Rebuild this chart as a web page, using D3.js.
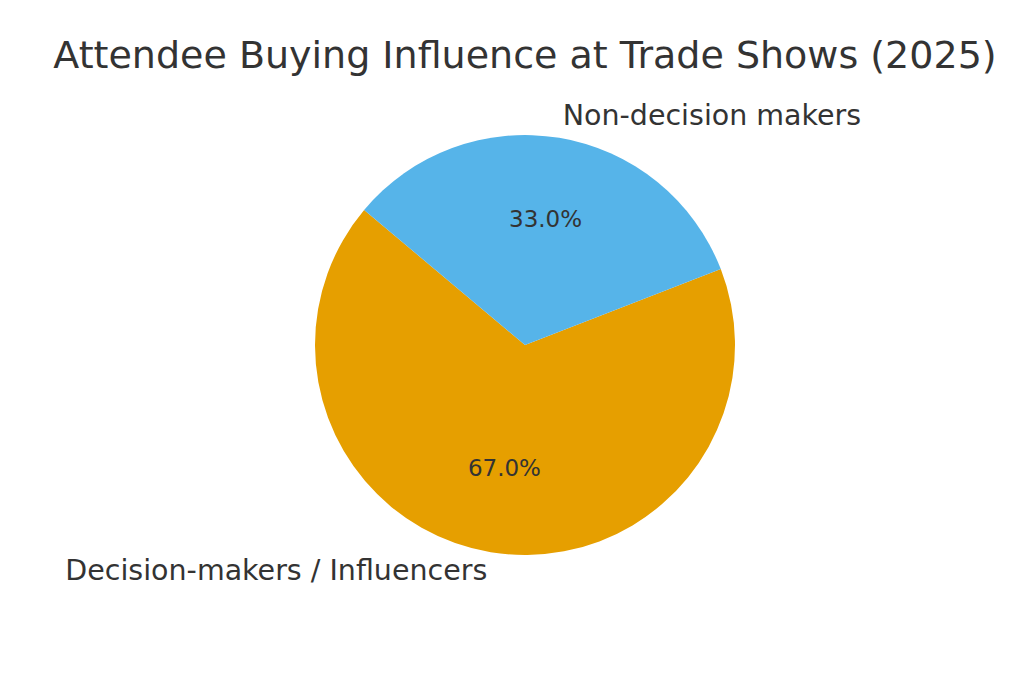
<!DOCTYPE html>
<html>
<head>
<meta charset="utf-8">
<script src="https://cdn.jsdelivr.net/npm/d3@7"></script>
<style>
  body { margin: 0; background: #fff; }
  text { font-family: "DejaVu Sans", sans-serif; fill: #333333; }
</style>
</head>
<body>
<div id="chart"></div>
<script>
const categories = ['Decision-makers / Influencers', 'Non-decision makers'];
const shares = [67, 33];
const colors = ['#E69F00', '#56B4E9'];
const titleText = 'Attendee Buying Influence at Trade Shows (2025)';

const W = 1024, H = 683;
const cx = 525, cy = 345, r = 210;
const startDeg = 140; // matplotlib startangle, counter-clockwise

const svg = d3.select('#chart').append('svg')
    .attr('width', W).attr('height', H);

svg.append('text')
    .attr('x', cx).attr('y', 68)
    .attr('text-anchor', 'middle')
    .attr('font-size', '38px')
    .text(titleText);

// d3 angles: clockwise from 12 o'clock; matplotlib: ccw from 3 o'clock
const toD3 = deg => (90 - deg) * Math.PI / 180;
const pie = d3.pie().sort(null).value(d => d)
    .startAngle(toD3(startDeg))
    .endAngle(toD3(startDeg) - 2 * Math.PI);
const arcs = pie(shares);

const g = svg.append('g').attr('transform', `translate(${cx},${cy})`);
const arc = d3.arc().innerRadius(0).outerRadius(r);

g.selectAll('path')
    .data(arcs)
    .enter().append('path')
    .attr('d', arc)
    .attr('fill', (d, i) => colors[i]);

// label baseline nudges (matplotlib centres on the text bbox)
const labelDy = [7.5, 8.2];
const total = d3.sum(shares);
arcs.forEach((d, i) => {
    const mid = (d.startAngle + d.endAngle) / 2;
    const lx = Math.sin(mid) * r * 1.1, ly = -Math.cos(mid) * r * 1.1;
    g.append('text')
        .attr('x', lx).attr('y', ly)
        .attr('dy', labelDy[i])
        .attr('text-anchor', lx < 0 ? 'end' : 'start')
        .attr('font-size', '28.5px')
        .text(categories[i]);
    const px = Math.sin(mid) * r * 0.6, py = -Math.cos(mid) * r * 0.6;
    g.append('text')
        .attr('x', px).attr('y', py)
        .attr('dy', 6.4)
        .attr('text-anchor', 'middle')
        .attr('font-size', '23px')
        .text((shares[i] / total * 100).toFixed(1) + '%');
});
</script>
</body>
</html>
